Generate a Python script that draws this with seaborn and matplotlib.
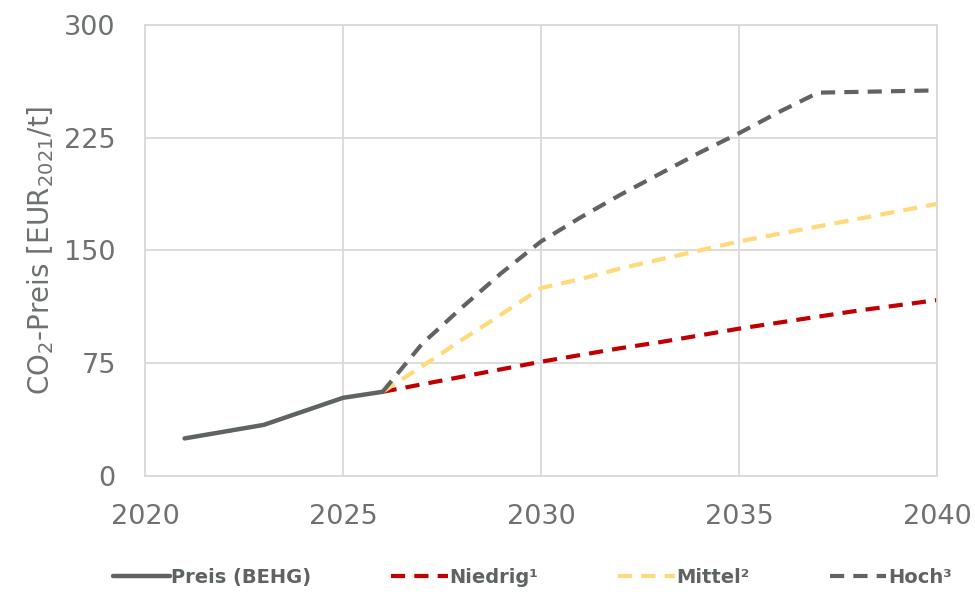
import matplotlib
matplotlib.use("Agg")
import matplotlib.pyplot as plt
import seaborn as sns
import pandas as pd

# data (EUR2021 per t)
years_behg = [2021, 2022, 2023, 2024, 2025, 2026]
preis_behg = [25, 29.5, 34, 43, 52, 56]

years_szen = list(range(2026, 2041))
niedrig = [56, 61, 66, 71, 76, 80.5, 85, 89, 93.5, 98, 102, 106, 110, 113.5, 117]
mittel = [56, 73, 90.5, 107.5, 125, 131, 138, 144, 150, 156, 161, 166, 171, 176, 181]
hoch = [56, 88, 112, 135, 156, 172, 187, 201, 215, 228, 242, 255, 255.5, 256, 256.5]

labels = ["Preis (BEHG)", "Niedrig\u00b9", "Mittel\u00b2", "Hoch\u00b3"]
colors = ["#5f6462", "#c00000", "#ffd97a", "#5f6462"]

sns.set_style("white")
plt.rcParams["font.family"] = ["DejaVu Sans"]
plt.rcParams["mathtext.default"] = "regular"

fig = plt.figure(figsize=(9.75, 5.95), dpi=100)
ax = fig.add_axes([0.1487, 0.2, 0.8123, 0.758])

dash = (0, (3.4, 2.2))
sns.lineplot(x=years_szen, y=niedrig, ax=ax, color=colors[1], lw=3, linestyle=dash, label=labels[1])
sns.lineplot(x=years_szen, y=mittel, ax=ax, color=colors[2], lw=3, linestyle=dash, label=labels[2])
sns.lineplot(x=years_szen, y=hoch, ax=ax, color=colors[3], lw=3, linestyle=dash, label=labels[3])
sns.lineplot(x=years_behg, y=preis_behg, ax=ax, color=colors[0], lw=3.2, label=labels[0],
             solid_capstyle="round")

ax.set_xlim(2020, 2040)
ax.set_ylim(0, 300)
ax.set_xticks([2020, 2025, 2030, 2035, 2040])
ax.set_yticks([0, 75, 150, 225, 300])
ax.grid(True, color="#d9d9d9", lw=1.3)
ax.set_axisbelow(True)
for s in ax.spines.values():
    s.set_color("#d9d9d9")
    s.set_linewidth(1.3)

txt = "#6e7171"
ax.tick_params(length=0, labelsize=19.5, labelcolor=txt)
ax.tick_params(axis="x", pad=20)
ax.tick_params(axis="y", pad=21)
ax.set_xlabel("")
ax.set_ylabel(r"CO$_2$-Preis [EUR$_{2021}$/t]", fontsize=20, color=txt, labelpad=6)

h, l = ax.get_legend_handles_labels()
order = [l.index(x) for x in labels]
ax.get_legend().remove()
leg = fig.legend([h[i] for i in order], [l[i] for i in order], loc="center",
                 bbox_to_anchor=(0.546, 0.03), ncol=4, frameon=False,
                 handlelength=2.9, handletextpad=0.1, columnspacing=4.1,
                 prop={"weight": "bold", "size": 14})
for t in leg.get_texts():
    t.set_color("#5f6462")

fig.savefig("out.png", dpi=100)
